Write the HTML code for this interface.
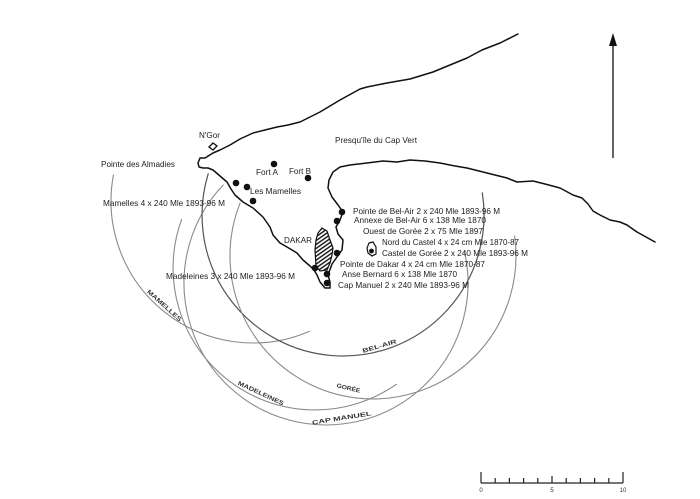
<!DOCTYPE html>
<html>
<head>
<meta charset="utf-8">
<style>
  html,body{margin:0;padding:0;background:#fff;}
  svg{display:block;}
  .t{font-family:"Liberation Sans",Arial,sans-serif;font-size:8.3px;fill:#222;}
  .h{font-family:"Liberation Sans",Arial,sans-serif;font-size:6px;fill:#333;font-weight:bold;}
  .s{font-family:"Liberation Sans",Arial,sans-serif;font-size:6px;fill:#333;}
</style>
</head>
<body>
<svg width="700" height="499" viewBox="0 0 700 499" xmlns="http://www.w3.org/2000/svg">
  <defs>
    <pattern id="hatch" patternUnits="userSpaceOnUse" width="3.2" height="3.2" patternTransform="rotate(-35)">
      <rect width="3.2" height="3.2" fill="#fff"/>
      <line x1="0" y1="0.8" x2="3.2" y2="0.8" stroke="#111" stroke-width="1.4"/>
    </pattern>
  </defs>
  <rect width="700" height="499" fill="#fff"/>

  <!-- range arcs -->
  <g fill="none" stroke-linecap="round">
    <path d="M113.4,175.1 A142,142 0 0,0 309.6,331.2" stroke="#8a8a8a" stroke-width="1.1"/>
    <path d="M181.6,219.4 A142,142 0 0,0 396.4,384.3" stroke="#8a8a8a" stroke-width="1.1"/>
    <path d="M223.2,185 A142,142 0 1,0 464.4,251.1" stroke="#8a8a8a" stroke-width="1.1"/>
    <path d="M482.3,192.9 A141,141 0 1,1 208.2,173.8" stroke="#555" stroke-width="1.2"/>
    <path d="M240.1,203.1 A143,143 0 1,0 514.6,236.1" stroke="#8a8a8a" stroke-width="1.1"/>
  </g>

  <!-- coastline -->
  <path d="M518,34 L500,43 L482,50 L467,58 L450,65 L433,72 L410,79 L387,83 L367,87 L360,89 L340,100 L320,112 L300,122 L288,125 L277,127 L265,130 L253,133 L240,139 L230,145 L220,150 L213,153 L205,158 L200,158 L198,163 L199,167 L203,168 L208,168 L213,170 L220,176 L227,182 L231,189 L235,195 L243,202 L253,208 L263,217 L270,227 L273,235 L280,243 L287,247 L297,253 L303,260 L310,266 L314,270 L317,275 L320,282 L325,288 L330,288 L330,282 L328,275 L332,264 L337,257 L342,250 L343,240 L338,234 L336,227 L340,220 L343,212 L338,205 L332,197 L328,188 L329,180 L333,172 L340,167 L350,165 L367,163 L383,161 L397,162 L410,160 L425,161 L440,163 L455,166 L467,168 L487,173 L507,178 L517,182 L533,181 L545,184 L560,188 L573,195 L582,198 L588,204 L593,211 L600,215 L610,220 L620,222 L627,225 L637,232 L655,242" fill="none" stroke="#111" stroke-width="1.5" stroke-linejoin="round" stroke-linecap="round"/>

  <!-- N'Gor island -->
  <path d="M209,147 L213,143 L217,146 L213,150 Z" fill="#fff" stroke="#111" stroke-width="1.3"/>

  <!-- hatched Dakar -->
  <path d="M318,233 L322,228 L327,231 L330,240 L333,248 L332,255 L330,263 L327,270 L320,271 L316,266 L315,250 L316,240 Z" fill="url(#hatch)" stroke="#111" stroke-width="1.2"/>

  <!-- Gorée island -->
  <path d="M369,243 L373,242 L376,247 L376,254 L372,256 L368,253 L367,248 Z" fill="#fff" stroke="#111" stroke-width="1.2"/>
  <circle cx="371.5" cy="251" r="2.4" fill="#111"/>

  <!-- dots -->
  <g fill="#111">
    <circle cx="274" cy="164" r="3.3"/>
    <circle cx="308" cy="178" r="3.3"/>
    <circle cx="236" cy="183" r="3.3"/>
    <circle cx="247" cy="187" r="3.3"/>
    <circle cx="253" cy="201" r="3.3"/>
    <circle cx="342" cy="212" r="3.3"/>
    <circle cx="337" cy="221" r="3.3"/>
    <circle cx="337" cy="253" r="3.3"/>
    <circle cx="315" cy="268" r="3.3"/>
    <circle cx="327" cy="274" r="3.3"/>
    <circle cx="327" cy="283" r="3.3"/>
  </g>

  <!-- labels -->
  <text class="t" x="199" y="138" textLength="21" lengthAdjust="spacingAndGlyphs">N'Gor</text>
  <text class="t" x="101" y="167" textLength="74" lengthAdjust="spacingAndGlyphs">Pointe des Almadies</text>
  <text class="t" x="335" y="143" textLength="82" lengthAdjust="spacingAndGlyphs">Presqu'île du Cap Vert</text>
  <text class="t" x="256" y="175" textLength="22" lengthAdjust="spacingAndGlyphs">Fort A</text>
  <text class="t" x="289" y="174" textLength="22" lengthAdjust="spacingAndGlyphs">Fort B</text>
  <text class="t" x="250" y="194" textLength="51" lengthAdjust="spacingAndGlyphs">Les Mamelles</text>
  <text class="t" x="103" y="206" textLength="122" lengthAdjust="spacingAndGlyphs">Mamelles 4 x 240 Mle 1893-96 M</text>
  <text class="t" x="284" y="243" textLength="28" lengthAdjust="spacingAndGlyphs">DAKAR</text>
  <text class="t" x="166" y="279" textLength="129" lengthAdjust="spacingAndGlyphs">Madeleines 3 x 240 Mle 1893-96 M</text>
  <text class="t" x="353" y="214" textLength="147" lengthAdjust="spacingAndGlyphs">Pointe de Bel-Air 2 x 240 Mle 1893-96 M</text>
  <text class="t" x="354" y="223" textLength="132" lengthAdjust="spacingAndGlyphs">Annexe de Bel-Air 6 x 138 Mle 1870</text>
  <text class="t" x="363" y="234" textLength="120" lengthAdjust="spacingAndGlyphs">Ouest de Gorée 2 x 75 Mle 1897</text>
  <text class="t" x="382" y="245" textLength="137" lengthAdjust="spacingAndGlyphs">Nord du Castel 4 x 24 cm Mle 1870-87</text>
  <text class="t" x="382" y="256" textLength="146" lengthAdjust="spacingAndGlyphs">Castel de Gorée 2 x 240 Mle 1893-96 M</text>
  <text class="t" x="340" y="267" textLength="145" lengthAdjust="spacingAndGlyphs">Pointe de Dakar 4 x 24 cm Mle 1870-87</text>
  <text class="t" x="342" y="277" textLength="115" lengthAdjust="spacingAndGlyphs">Anse Bernard 6 x 138 Mle 1870</text>
  <text class="t" x="338" y="288" textLength="131" lengthAdjust="spacingAndGlyphs">Cap Manuel 2 x 240 Mle 1893-96 M</text>

  <!-- arc labels -->
  <text class="h" text-anchor="middle" transform="translate(163,307) rotate(42)" textLength="44" lengthAdjust="spacingAndGlyphs">MAMELLES</text>
  <text class="h" text-anchor="middle" transform="translate(380,348) rotate(-16)" textLength="35" lengthAdjust="spacingAndGlyphs">BEL-AIR</text>
  <text class="h" text-anchor="middle" transform="translate(348,390) rotate(13)" textLength="24" lengthAdjust="spacingAndGlyphs">GORÉE</text>
  <text class="h" text-anchor="middle" transform="translate(260,395) rotate(25)" textLength="50" lengthAdjust="spacingAndGlyphs">MADELEINES</text>
  <text class="h" text-anchor="middle" transform="translate(342,420) rotate(-9)" textLength="60" lengthAdjust="spacingAndGlyphs">CAP MANUEL</text>

  <!-- north arrow -->
  <line x1="613" y1="158" x2="613" y2="44" stroke="#111" stroke-width="1.3"/>
  <path d="M613,33 L609,46 L617,46 Z" fill="#111"/>

  <!-- scale bar -->
  <g stroke="#222" stroke-width="1.2" fill="none">
    <line x1="481" y1="483" x2="623" y2="483"/>
    <line x1="481" y1="472" x2="481" y2="483"/>
    <line x1="623" y1="472" x2="623" y2="483"/>
    <line x1="495.2" y1="478" x2="495.2" y2="483"/>
    <line x1="509.4" y1="478" x2="509.4" y2="483"/>
    <line x1="523.6" y1="478" x2="523.6" y2="483"/>
    <line x1="537.8" y1="478" x2="537.8" y2="483"/>
    <line x1="552" y1="476" x2="552" y2="483"/>
    <line x1="566.2" y1="478" x2="566.2" y2="483"/>
    <line x1="580.4" y1="478" x2="580.4" y2="483"/>
    <line x1="594.6" y1="478" x2="594.6" y2="483"/>
    <line x1="608.8" y1="478" x2="608.8" y2="483"/>
  </g>
  <text class="s" x="481" y="492" text-anchor="middle">0</text>
  <text class="s" x="552" y="492" text-anchor="middle">5</text>
  <text class="s" x="623" y="492" text-anchor="middle">10</text>
</svg>
</body>
</html>
